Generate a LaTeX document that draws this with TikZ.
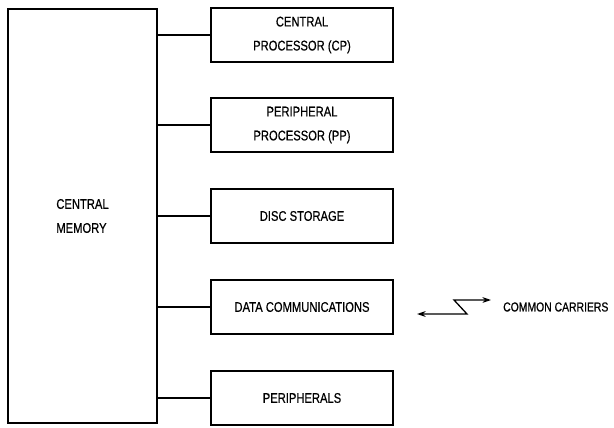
\documentclass[tikz,border=0pt]{standalone}
\usepackage{fontspec}
\setmainfont[FakeStretch=0.8, FakeBold=0.6]{Liberation Sans}
\usetikzlibrary{arrows.meta, positioning}

\begin{document}
\begin{tikzpicture}[
  x=1pt, y=-1pt,
  >={Stealth[length=3mm, width=2mm]},
  unit/.style={draw, line width=1.3pt, minimum width=182pt, minimum height=54pt,
    inner sep=0pt, align=center, font=\fontsize{14}{24}\selectfont},
  bus/.style={line width=1.3pt},
  lbl/.style={font=\fontsize{13}{24}\selectfont, inner sep=0pt},
]
\useasboundingbox (0,0) rectangle (614,428);

% Central memory
\node[draw, line width=1.3pt, minimum width=149pt, minimum height=414pt,
  inner sep=0pt, align=left, font=\fontsize{14}{24}\selectfont] (mem) at (82.5,216)
  {CENTRAL\\MEMORY};

% Units on the right
\node[unit] (cp) at (302,35) {CENTRAL\\PROCESSOR (CP)};
\node[unit] (pp) at (302,125) {PERIPHERAL\\PROCESSOR (PP)};
\node[unit] (disc) at (302,216) {DISC STORAGE};
\node[unit] (dc) at (302,307) {DATA COMMUNICATIONS};
\node[unit] (per) at (302,398) {PERIPHERALS};

% Links to memory
\foreach \u in {cp,pp,disc,dc,per}
  \draw[bus] (\u.west) -- (\u.west -| mem.east);

% Common carriers link
\coordinate (zl) at (417,314);
\coordinate (za) at (467,314);
\coordinate (zb) at (454,300);
\coordinate (zr) at (491,300);
\draw[<->, bus] (zl) -- (za) -- (zb) -- (zr);
\node[lbl, anchor=west] (carr) at (503,307) {COMMON CARRIERS};

\end{tikzpicture}
\end{document}
